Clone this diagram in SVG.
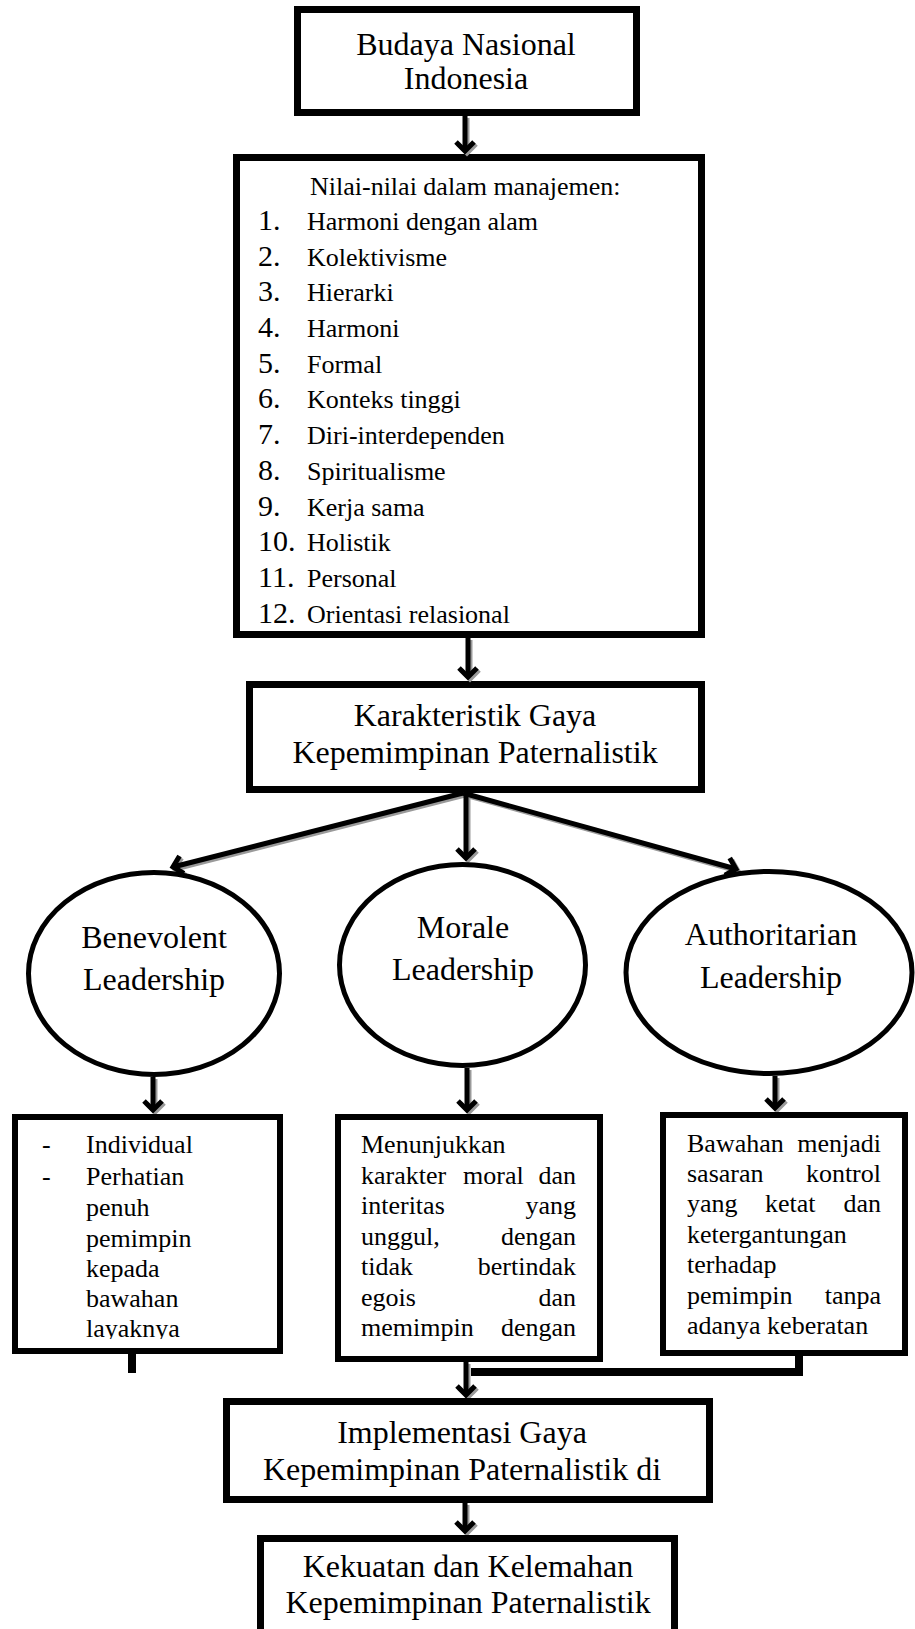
<svg xmlns="http://www.w3.org/2000/svg" width="915" height="1629" viewBox="0 0 915 1629">
<style>
.box{fill:#fff;stroke:#000;stroke-width:7}
.sbox{fill:#fff;stroke:#000;stroke-width:6}
.ell{fill:#fff;stroke:#000;stroke-width:5}
.t32{font-family:"Liberation Serif","Times New Roman",serif;font-size:32px;fill:#000}
.t26{font-family:"Liberation Serif","Times New Roman",serif;font-size:26px;fill:#000}
.n30{font-family:"Liberation Serif","Times New Roman",serif;font-size:30px;fill:#000}
.c{text-anchor:middle}
.e{text-anchor:end}
.ln{fill:none;stroke:#000;stroke-width:5}
.sh{fill:none;stroke:#9a9a9a;stroke-width:5}
.thick{fill:none;stroke:#000;stroke-width:8}
</style>
<defs>
<marker id="ah" viewBox="-13 -13 26 26" markerWidth="26" markerHeight="26" markerUnits="userSpaceOnUse" refX="0" refY="0" orient="auto">
<path d="M-9,-9 L0,0 L-9,9" fill="none" stroke="#000" stroke-width="5"/>
</marker>
<marker id="ahs" viewBox="-13 -13 26 26" markerWidth="26" markerHeight="26" markerUnits="userSpaceOnUse" refX="0" refY="0" orient="auto">
<path d="M-9,-9 L0,0 L-9,9" fill="none" stroke="#9a9a9a" stroke-width="5"/>
</marker>
<clipPath id="clipL"><rect x="18" y="1120" width="259" height="219"/></clipPath>
</defs>

<g id="n-budaya">
<rect class="box" x="297.5" y="9.5" width="339" height="103"/>
<text class="t32 c" x="466" y="55">Budaya Nasional</text>
<text class="t32 c" x="466" y="89">Indonesia</text>
</g>

<g id="n-nilai">
<rect class="box" x="236.5" y="157.5" width="465" height="477"/>
<text class="t26" x="310" y="195">Nilai-nilai dalam manajemen:</text>
<text class="n30" x="258" y="230">1.</text><text class="t26" x="307" y="230">Harmoni dengan alam</text>
<text class="n30" x="258" y="266">2.</text><text class="t26" x="307" y="266">Kolektivisme</text>
<text class="n30" x="258" y="301">3.</text><text class="t26" x="307" y="301">Hierarki</text>
<text class="n30" x="258" y="337">4.</text><text class="t26" x="307" y="337">Harmoni</text>
<text class="n30" x="258" y="373">5.</text><text class="t26" x="307" y="373">Formal</text>
<text class="n30" x="258" y="408">6.</text><text class="t26" x="307" y="408">Konteks tinggi</text>
<text class="n30" x="258" y="444">7.</text><text class="t26" x="307" y="444">Diri-interdependen</text>
<text class="n30" x="258" y="480">8.</text><text class="t26" x="307" y="480">Spiritualisme</text>
<text class="n30" x="258" y="516">9.</text><text class="t26" x="307" y="516">Kerja sama</text>
<text class="n30" x="258" y="551">10.</text><text class="t26" x="307" y="551">Holistik</text>
<text class="n30" x="258" y="587">11.</text><text class="t26" x="307" y="587">Personal</text>
<text class="n30" x="258" y="623">12.</text><text class="t26" x="307" y="623">Orientasi relasional</text>
</g>

<g id="n-karakteristik">
<rect class="box" x="249.5" y="684.5" width="452" height="105"/>
<text class="t32 c" x="475" y="726">Karakteristik Gaya</text>
<text class="t32 c" x="475" y="763">Kepemimpinan Paternalistik</text>
</g>

<g id="connectors">
<g id="shadows" transform="translate(2,2)">
<path class="sh" d="M465,116 V151" marker-end="url(#ahs)"/>
<path class="sh" d="M468,638 V677" marker-end="url(#ahs)"/>
<path class="sh" d="M463,793 L173,867" marker-end="url(#ahs)"/>
<path class="sh" d="M466,793 V858" marker-end="url(#ahs)"/>
<path class="sh" d="M463,793 L736,869" marker-end="url(#ahs)"/>
<path class="sh" d="M153,1077 V1110" marker-end="url(#ahs)"/>
<path class="sh" d="M467,1068 V1110" marker-end="url(#ahs)"/>
<path class="sh" d="M775,1076 V1108" marker-end="url(#ahs)"/>
<path class="sh" d="M466,1362 V1395" marker-end="url(#ahs)"/>
<path class="sh" d="M465,1503 V1531" marker-end="url(#ahs)"/>
</g>
<path class="ln" d="M465,116 V151" marker-end="url(#ah)"/>
<path class="ln" d="M468,638 V677" marker-end="url(#ah)"/>
<path class="ln" d="M463,793 L173,867" marker-end="url(#ah)"/>
<path class="ln" d="M466,793 V858" marker-end="url(#ah)"/>
<path class="ln" d="M463,793 L736,869" marker-end="url(#ah)"/>
<path class="ln" d="M153,1077 V1110" marker-end="url(#ah)"/>
<path class="ln" d="M467,1068 V1110" marker-end="url(#ah)"/>
<path class="ln" d="M775,1076 V1108" marker-end="url(#ah)"/>
<path class="ln" d="M466,1362 V1395" marker-end="url(#ah)"/>
<path class="ln" d="M465,1503 V1531" marker-end="url(#ah)"/>
<path class="thick" d="M132,1354 V1373"/>
<path class="thick" d="M799,1356 V1372 H471"/>
</g>

<g id="n-benevolent">
<ellipse class="ell" cx="154" cy="973.5" rx="125.5" ry="101"/>
<text class="t32 c" x="154" y="948">Benevolent</text>
<text class="t32 c" x="154" y="990">Leadership</text>
</g>

<g id="n-morale">
<ellipse class="ell" cx="462.5" cy="965" rx="123" ry="100.5"/>
<text class="t32 c" x="463" y="938">Morale</text>
<text class="t32 c" x="463" y="980">Leadership</text>
</g>

<g id="n-authoritarian">
<ellipse class="ell" cx="769" cy="972.5" rx="143" ry="101"/>
<text class="t32 c" x="771" y="945">Authoritarian</text>
<text class="t32 c" x="771" y="988">Leadership</text>
</g>

<g id="n-benevolent-desc">
<rect class="sbox" x="15" y="1117" width="265" height="234"/>
<g clip-path="url(#clipL)">
<text class="t26" x="42" y="1153">-</text><text class="t26" x="86" y="1153">Individual</text>
<text class="t26" x="42" y="1185">-</text><text class="t26" x="86" y="1185">Perhatian</text>
<text class="t26" x="86" y="1216">penuh</text>
<text class="t26" x="86" y="1247">pemimpin</text>
<text class="t26" x="86" y="1277">kepada</text>
<text class="t26" x="86" y="1307">bawahan</text>
<text class="t26" x="86" y="1337">layaknya</text>
</g>
</g>

<g id="n-morale-desc">
<rect class="sbox" x="338" y="1117" width="262" height="242"/>
<text class="t26" x="361" y="1153">Menunjukkan</text>
<text class="t26" x="361" y="1184">karakter</text><text class="t26" x="463" y="1184">moral</text><text class="t26 e" x="576" y="1184">dan</text>
<text class="t26" x="361" y="1214">interitas</text><text class="t26 e" x="576" y="1214">yang</text>
<text class="t26" x="361" y="1245">unggul,</text><text class="t26 e" x="576" y="1245">dengan</text>
<text class="t26" x="361" y="1275">tidak</text><text class="t26 e" x="576" y="1275">bertindak</text>
<text class="t26" x="361" y="1306">egois</text><text class="t26 e" x="576" y="1306">dan</text>
<text class="t26" x="361" y="1336">memimpin</text><text class="t26 e" x="576" y="1336">dengan</text>
</g>

<g id="n-authoritarian-desc">
<rect class="sbox" x="663" y="1115" width="242" height="238"/>
<text class="t26" x="687" y="1152">Bawahan</text><text class="t26 e" x="881" y="1152">menjadi</text>
<text class="t26" x="687" y="1182">sasaran</text><text class="t26 e" x="881" y="1182">kontrol</text>
<text class="t26" x="687" y="1212">yang</text><text class="t26" x="765" y="1212">ketat</text><text class="t26 e" x="881" y="1212">dan</text>
<text class="t26" x="687" y="1243">ketergantungan</text>
<text class="t26" x="687" y="1273">terhadap</text>
<text class="t26" x="687" y="1304">pemimpin</text><text class="t26 e" x="881" y="1304">tanpa</text>
<text class="t26" x="687" y="1334">adanya keberatan</text>
</g>

<g id="n-implementasi">
<rect class="box" x="226.5" y="1401.5" width="483" height="98"/>
<text class="t32 c" x="462" y="1443">Implementasi Gaya</text>
<text class="t32 c" x="462" y="1480">Kepemimpinan Paternalistik di</text>
</g>

<g id="n-kekuatan">
<rect class="box" x="260.5" y="1538.5" width="414" height="130"/>
<text class="t32 c" x="468" y="1577">Kekuatan dan Kelemahan</text>
<text class="t32 c" x="468" y="1613">Kepemimpinan Paternalistik</text>
</g>
</svg>
